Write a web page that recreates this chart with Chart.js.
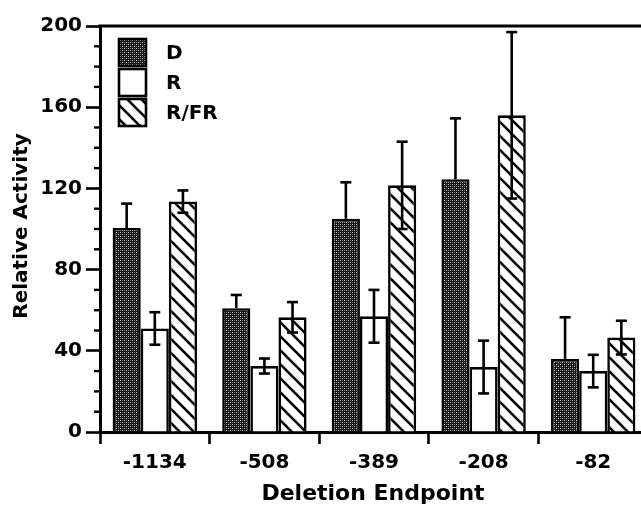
<!DOCTYPE html>
<html>
<head>
<meta charset="utf-8">
<script src="https://cdn.jsdelivr.net/npm/chart.js@4/dist/chart.umd.min.js"></script>
<style>
html,body{margin:0;padding:0;background:#fff;overflow:hidden;}
#wrap{position:relative;width:648px;height:506px;}
</style>
</head>
<body>
<div id="wrap"><canvas id="c" width="648" height="506"></canvas></div>
<script>
// ---- data ----
const categories = ['-1134', '-508', '-389', '-208', '-82'];
const seriesNames = ['D', 'R', 'R/FR'];
const valuesD   = [100.5, 61, 105, 124.5, 36];
const valuesR   = [51, 32.5, 57, 32, 30];
const valuesRFR = [113.5, 56.5, 121.5, 156, 46.5];
const errD   = [12, 6.5, 18, 30, 20.5];
const errR   = [8, 3.7, 13, 13, 8];
const errRFR = [5.5, 7.5, 21.5, 41, 8.3];
const yTickLabels = [0, 40, 80, 120, 160, 200];
const xTitle = 'Deletion Endpoint';
const yTitle = 'Relative Activity';

// ---- patterns ----
function stipple() {
  const c = document.createElement('canvas'); c.width = 4; c.height = 4;
  const g = c.getContext('2d');
  g.fillStyle = '#141414'; g.fillRect(0, 0, 4, 4);
  g.fillStyle = '#c4c4c4'; g.fillRect(0, 0, 1, 1); g.fillRect(2, 2, 1, 1);
  g.fillStyle = '#767676'; g.fillRect(2, 0, 1, 1); g.fillRect(0, 2, 1, 1);
  return g.createPattern(c, 'repeat');
}
function hatch() {
  const s = 14;
  const c = document.createElement('canvas'); c.width = s; c.height = s;
  const g = c.getContext('2d');
  g.fillStyle = '#fff'; g.fillRect(0, 0, s, s);
  g.strokeStyle = '#000'; g.lineWidth = 2.6;
  for (let k = -1; k <= 1; k++) {
    g.beginPath(); g.moveTo(-2, k * s - 2); g.lineTo(s + 2, k * s + s + 2); g.stroke();
  }
  return g.createPattern(c, 'repeat');
}
const ctx = document.getElementById('c').getContext('2d');
const fills = [stipple(), '#ffffff', hatch()];
const errs = [errD, errR, errRFR];
const FONT = 'DejaVu Sans';

const errorBars = {
  id: 'errorBars',
  afterDatasetsDraw(chart) {
    const g = chart.ctx, y = chart.scales.y;
    g.save();
    g.strokeStyle = '#000'; g.lineWidth = 2.6; g.lineCap = 'butt';
    chart.data.datasets.forEach((ds, i) => {
      const meta = chart.getDatasetMeta(i);
      meta.data.forEach((el, j) => {
        const v = ds.data[j], e = errs[i][j];
        const top = y.getPixelForValue(v + e);
        const bot = i === 0 ? y.getPixelForValue(v) : y.getPixelForValue(v - e);
        const x = el.x;
        g.beginPath(); g.moveTo(x, top); g.lineTo(x, bot); g.stroke();
        g.beginPath(); g.moveTo(x - 5.5, top); g.lineTo(x + 5.5, top); g.stroke();
        if (i !== 0) { g.beginPath(); g.moveTo(x - 5.5, bot); g.lineTo(x + 5.5, bot); g.stroke(); }
      });
    });
    g.restore();
  }
};

const decor = {
  id: 'decor',
  afterDraw(chart) {
    const g = chart.ctx, a = chart.chartArea, y = chart.scales.y;
    g.save();
    // top frame line
    g.strokeStyle = '#000'; g.lineWidth = 3;
    g.beginPath(); g.moveTo(a.left - 1.5, a.top); g.lineTo(chart.width, a.top); g.stroke();
    // minor ticks
    g.lineWidth = 2.4;
    for (let v = 0; v <= 200; v += 10) {
      if (yTickLabels.includes(v)) continue;
      const p = y.getPixelForValue(v);
      g.beginPath(); g.moveTo(a.left - 6, p); g.lineTo(a.left, p); g.stroke();
    }
    // legend
    const lx = 118, ly = 38, bw = 29, bh = 29, gap = 1;
    g.font = 'bold 20px "' + FONT + '"';
    g.textBaseline = 'middle'; g.textAlign = 'left';
    seriesNames.forEach((n, i) => {
      const by = ly + i * (bh + gap);
      g.fillStyle = fills[i]; g.fillRect(lx, by, bw, bh);
      g.lineWidth = 2.6; g.strokeStyle = '#000'; g.strokeRect(lx + 1, by + 1, bw - 2, bh - 2);
      g.fillStyle = '#000'; g.fillText(n, 166, by + bh / 2 + 1);
    });
    // axis titles
    g.textAlign = 'center'; g.textBaseline = 'middle';
    g.font = 'bold 22px "' + FONT + '"';
    g.fillText(xTitle, (a.left + a.right) / 2 - 1, 494);
    g.font = 'bold 20px "' + FONT + '"';
    g.save(); g.translate(22, 226); g.rotate(-Math.PI / 2); g.fillText(yTitle, 0, 0); g.restore();
    g.restore();
  }
};

new Chart(ctx, {
  type: 'bar',
  data: {
    labels: categories,
    datasets: [valuesD, valuesR, valuesRFR].map((d, i) => ({
      label: seriesNames[i], data: d, backgroundColor: fills[i],
      borderColor: '#000', borderWidth: 2.6, borderSkipped: 'bottom',
      categoryPercentage: 0.77, barPercentage: 1.0
    }))
  },
  options: {
    responsive: false, animation: false,
    layout: { padding: { top: 26, right: 0, left: 0, bottom: 0 } },
    plugins: { legend: { display: false }, tooltip: { enabled: false } },
    scales: {
      x: {
        grid: { display: true, drawOnChartArea: false, offset: true, tickLength: 12, tickWidth: 2.6, tickColor: '#000' },
        border: { display: true, color: '#000', width: 3 },
        ticks: { color: '#000', font: { family: FONT, size: 20, weight: 'bold' }, padding: 7, maxRotation: 0 },
        afterFit(s) { s.height = 74; }
      },
      y: {
        min: 0, max: 200,
        grid: { display: true, drawOnChartArea: false, tickLength: 14, tickWidth: 2.6,
                tickColor: c => (yTickLabels.includes(c.tick && c.tick.value) ? '#000' : 'rgba(0,0,0,0)') },
        border: { display: true, color: '#000', width: 3 },
        ticks: { stepSize: 10, color: '#000', font: { family: FONT, size: 20, weight: 'bold' }, padding: 4,
                 callback: v => (yTickLabels.includes(v) ? String(v) : '') },
        afterFit(s) { s.width = 100; }
      }
    }
  },
  plugins: [errorBars, decor]
});
</script>
</body>
</html>
